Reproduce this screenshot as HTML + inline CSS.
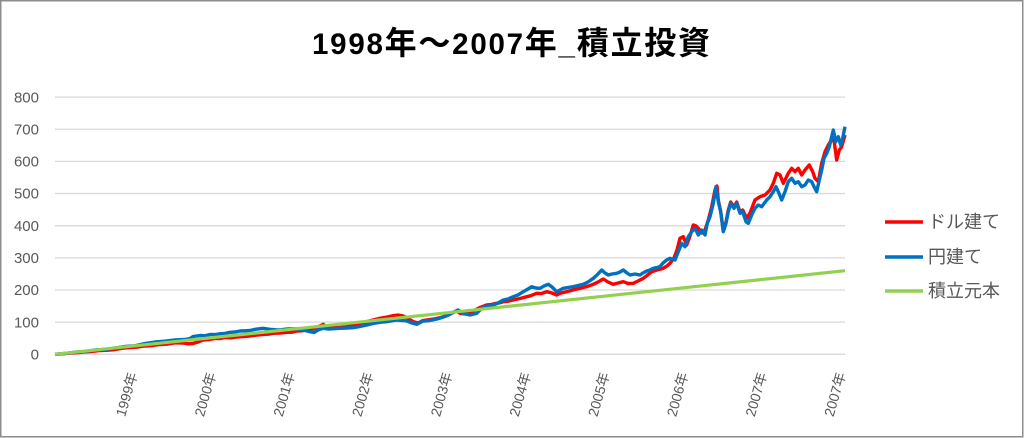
<!DOCTYPE html>
<html>
<head>
<meta charset="utf-8">
<style>
  html,body{margin:0;padding:0;background:#fff;}
  svg{display:block;}
</style>
</head>
<body>
<svg width="1024" height="438" viewBox="0 0 1024 438" xmlns="http://www.w3.org/2000/svg">
  <rect x="0" y="0" width="1024" height="438" fill="#ffffff"/>
  <rect x="0.75" y="0.75" width="1022" height="436" fill="none" stroke="#8c8c8c" stroke-width="1.5"/>

  <!-- Title -->
  <text x="312" y="54" textLength="398" lengthAdjust="spacing" font-weight="bold" fill="#000" font-family="'Liberation Sans','Noto Sans CJK JP',sans-serif"><tspan font-size="29.5">1998</tspan><tspan font-size="32" font-family="'Noto Sans CJK JP',sans-serif">年～</tspan><tspan font-size="29.5">2007</tspan><tspan font-size="32" font-family="'Noto Sans CJK JP',sans-serif">年</tspan><tspan font-size="29.5">_</tspan><tspan font-size="32" font-family="'Noto Sans CJK JP',sans-serif">積立投資</tspan></text>

  <!-- Gridlines -->
  <g stroke="#d9d9d9" stroke-width="1.3">
    <line x1="55" y1="97.1" x2="845" y2="97.1"/>
    <line x1="55" y1="129.25" x2="845" y2="129.25"/>
    <line x1="55" y1="161.4" x2="845" y2="161.4"/>
    <line x1="55" y1="193.55" x2="845" y2="193.55"/>
    <line x1="55" y1="225.7" x2="845" y2="225.7"/>
    <line x1="55" y1="257.85" x2="845" y2="257.85"/>
    <line x1="55" y1="290" x2="845" y2="290"/>
    <line x1="55" y1="322.15" x2="845" y2="322.15"/>
    <line x1="55" y1="354.3" x2="845" y2="354.3"/>
  </g>

  <!-- Y labels -->
  <g font-family="'Liberation Sans',sans-serif" font-size="15" fill="#595959" text-anchor="end">
    <text x="39" y="102.3">800</text>
    <text x="39" y="134.4">700</text>
    <text x="39" y="166.6">600</text>
    <text x="39" y="198.7">500</text>
    <text x="39" y="230.9">400</text>
    <text x="39" y="263">300</text>
    <text x="39" y="295.2">200</text>
    <text x="39" y="327.3">100</text>
    <text x="39" y="359.5">0</text>
  </g>

  <!-- X labels -->
  <g font-family="'Liberation Sans','Noto Sans CJK JP',sans-serif" font-size="14" fill="#595959" text-anchor="end">
    <text transform="translate(137.5,374) rotate(-74)">1999年</text>
    <text transform="translate(216.2,374) rotate(-74)">2000年</text>
    <text transform="translate(294.9,374) rotate(-74)">2001年</text>
    <text transform="translate(373.6,374) rotate(-74)">2002年</text>
    <text transform="translate(452.3,374) rotate(-74)">2003年</text>
    <text transform="translate(531,374) rotate(-74)">2004年</text>
    <text transform="translate(609.7,374) rotate(-74)">2005年</text>
    <text transform="translate(688.4,374) rotate(-74)">2006年</text>
    <text transform="translate(767.1,374) rotate(-74)">2007年</text>
    <text transform="translate(845.8,374) rotate(-74)">2007年</text>
  </g>

  <!-- Red series (ドル建て) -->
  <polyline fill="none" stroke="#ff0000" stroke-width="3.4" stroke-linejoin="round" points="
55,354.3 62,353.8 70,353 78,352.6 85,351.8 92,351.5 100,350.5 108,350.2 115,349.5 122,348.3 130,347.5 138,347 145,346 152,345.6 160,344.5 168,344 175,342.8 183,343 188,343.8 193,343.5 198,342 203,340 209,339.6 215,338.5 220,338.6 225,337.5 231,337.8 237,337 243,336.6 250,336 256,335.2 262,334.5 268,334.2 273,333.3 280,333 287,332.3 292,332.2 297,331 302,330.8 306.7,330 311,329.5 315,328 320,326 323.3,324.3 327,328 331,327.2 335,327.5 341,327.3 346.7,326.7 351,325.8 355,325 361,323.5 366.7,321.7 373,320 380,318.3 387,317 393.3,315.7 398,315 403.3,316 408,318.5 413.3,321.7 418,323 423,320.5 430,319.5 435,318.8 440,317.7 444,316.5 448,315 452,313 456.7,311 460,313.3 465,314 470,313 475,310 480,307.5 486.7,305 491,304.6 495,303.5 499,303 503.3,301.7 508,301.2 513.3,300 520,298.5 526.7,296.7 531,295.6 536.7,293.3 541,293.6 546.7,291.7 552,293 556.7,295 561,293 566.7,291.7 573,290 580,288.3 587,286.5 593.3,284.3 598,282 603.3,279 608,282 613.3,284.3 618,283 623.3,281.7 628,283.5 633.3,283.3 638,281 643.3,278.3 647,275.5 651.7,271.7 657,270 663.3,268.3 667,266 670,263.3 674,258 677,250 680,238.3 683.3,236.7 686.7,245 690,236 693.3,225 696,226 698.3,228.3 701.7,233 705,230 708.3,220 711.7,206.7 715,190 717,186 718.3,200 720.7,211.7 723.3,231 726,222 728.3,210 730.7,202 734,207 736.7,202 740,212 742.7,210 746.7,218.3 750,213 755,200 760,196.7 765,195 770,190 773.3,183.3 776.7,173.3 780,175 783.3,183.3 786,178 788.3,173.3 791.7,168.3 795,171.7 798.3,168.3 801.7,175 805,170 809.3,165 812.7,171.7 815,178.3 818.3,181.7 821.7,163.3 825,151.7 828.3,145 831.7,140 834,140 836.7,160 839.3,150 841.7,146.7 845,135"/>

  <!-- Blue series (円建て) -->
  <polyline fill="none" stroke="#0070c0" stroke-width="3.4" stroke-linejoin="round" points="
55,354.3 65,353.5 75,352.2 85,351.4 95,350 105,349.5 115,348 125,346.5 135,345.8 145,343.5 155,342 165,341.2 175,340 185,339.5 190,338.5 193,336.5 200,335.5 205,335.8 210,334.5 215,334.6 220,333.8 225,333.4 230,332.3 235,332 240,331 245,330.8 250,330.5 256,329.2 263,328.3 268,329 272,329.5 276,329.8 280,330 285,329.2 290,328.8 297,329 301,329.6 305,330.5 310,331.7 314,332.5 318,330 323,328.3 328,329 332,328.8 336,328.5 340,328.3 347,328 353,327.7 360,326.5 367,325 373,323.5 380,322.3 388,321.5 393,320.6 397,320 403,320.5 407,321 412,323 417,324.3 423,321 430,320.5 437,319 442,317.5 447,315.7 453,312.5 458,310 463,313.3 470,315 476.7,313.3 483.3,306.7 488,306 493.3,305 498,303 503.3,300 508,299 513.3,296.7 518,295 523.3,291.7 528,289 531.7,286.7 536,288 540,288.3 544,286 548.3,284.3 552,287 556.7,291.7 560,290 563.3,288.3 568,287.5 573.3,286.7 578,285.5 583.3,284.3 588,282 593.3,278.3 597,275 601.7,270 605,273 608.3,275 612,274 616.7,273.3 620,272 623.3,270 627,273 630,275 635,274 640,275 643,273 646.7,271 650,270 653.3,268.3 657,267.5 660,266.7 663,263 666.7,260 670,258.3 675,260 678.3,251.7 681.7,243.3 685,246.7 688.3,236.7 691.7,231.7 695,228.3 698.3,235 701.7,230 705,235 707.3,223.3 710,216.7 713.3,203.3 716,186.7 718.3,201.7 720.7,211.7 723.3,231.7 726,223.3 728.3,211.7 730.7,203.3 734,208.3 736.7,203.3 740,213.3 742.7,211.7 746,221.7 748.3,223.3 751.7,215 755,208.3 758.3,205 761.7,206.7 766.7,200 770,196.7 773.3,191.7 776,186.7 778.3,191.7 781.7,200 785,191.7 788.3,181.7 791.7,178.3 795,183.3 798.3,181.7 801.7,186.7 805,185 808.3,180 811.7,181.7 814,186.7 816.7,191.7 819.3,180 821.7,170 824,158.3 826.7,153.3 829.3,146.7 831.7,136.7 833.3,130 835.7,141.7 838.3,136.7 840.7,145 842.7,138.3 845,126.7"/>

  <!-- Green series (積立元本) -->
  <line x1="55" y1="354.3" x2="845" y2="270.7" stroke="#92d050" stroke-width="3.2"/>

  <!-- Legend -->
  <g stroke-width="3.4">
    <line x1="885" y1="222" x2="923" y2="222" stroke="#ff0000"/>
    <line x1="885" y1="257" x2="923" y2="257" stroke="#0070c0"/>
    <line x1="885" y1="291" x2="923" y2="291" stroke="#92d050"/>
  </g>
  <g font-family="'Liberation Sans','Noto Sans CJK JP',sans-serif" font-size="18" fill="#595959">
    <text x="928" y="228">ドル建て</text>
    <text x="928" y="263">円建て</text>
    <text x="928" y="297">積立元本</text>
  </g>
</svg>
</body>
</html>
